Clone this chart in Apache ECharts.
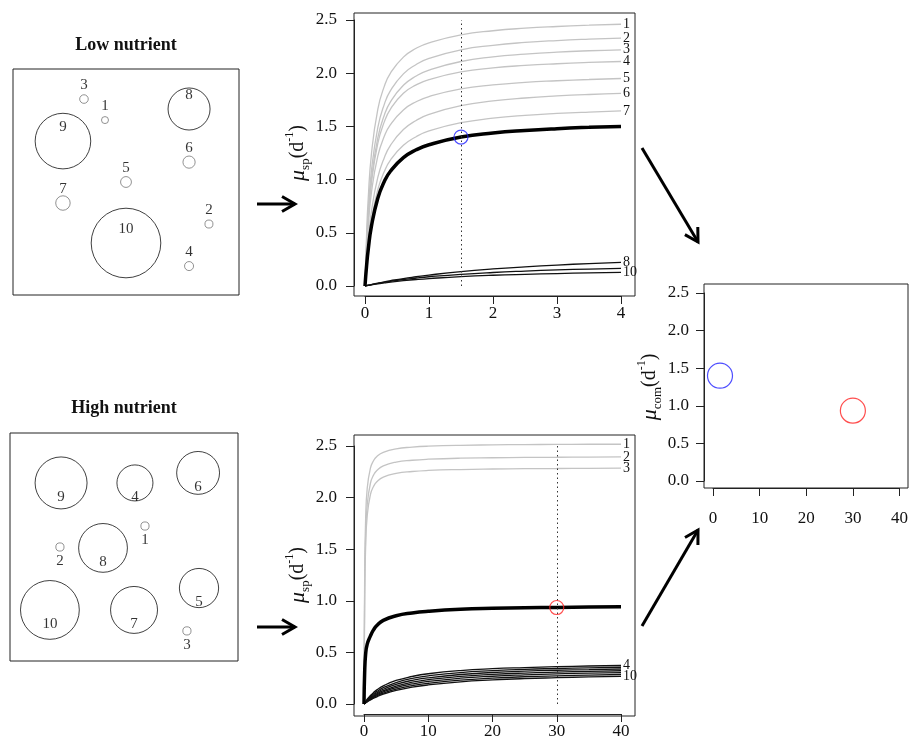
<!DOCTYPE html>
<html>
<head>
<meta charset="utf-8">
<script src="https://cdn.jsdelivr.net/npm/echarts@6/dist/echarts.min.js"></script>
<style>
  html, body { margin: 0; background: #fff; }
  #chart { width: 911px; height: 740px; }
</style>
</head>
<body>
<div id="chart"></div>
<script>
const speciesIds = ['1', '2', '3', '4', '5', '6', '7', '8', '9', '10'];
const muTicks = [0, 0.5, 1, 1.5, 2, 2.5];

// low nutrient community: cell positions (box units 0-10) and radii
const lowPosX = [4.07, 8.67, 3.14, 7.79, 5.0, 7.79, 2.21, 7.79, 2.21, 5.0];
const lowPosY = [7.74, 3.14, 8.67, 1.28, 5.0, 5.88, 4.07, 8.23, 6.81, 2.30];
const lowRadius = [0.155, 0.177, 0.19, 0.2, 0.24, 0.27, 0.32, 0.93, 1.23, 1.54];
const lowGray = ['1', '2', '3', '4', '5', '6', '7'];
const lowLabelled = ['1', '2', '3', '4', '5', '6', '7', '8', '10'];

// low nutrient growth curves
const lowS = [0, 0.025, 0.05, 0.1, 0.2, 0.3, 0.4, 0.6, 0.8, 1, 1.5, 2, 2.5, 3, 3.5, 4];
const lowMu = [
  [0, 0.489, 0.819, 1.237, 1.661, 1.874, 2.003, 2.151, 2.234, 2.286, 2.360, 2.399, 2.423, 2.439, 2.451, 2.460],
  [0, 0.407, 0.696, 1.079, 1.489, 1.705, 1.838, 1.994, 2.082, 2.139, 2.220, 2.262, 2.289, 2.307, 2.320, 2.330],
  [0, 0.372, 0.640, 1.001, 1.393, 1.603, 1.733, 1.886, 1.974, 2.030, 2.110, 2.153, 2.179, 2.198, 2.211, 2.220],
  [0, 0.355, 0.615, 0.965, 1.340, 1.540, 1.665, 1.811, 1.890, 1.940, 2.012, 2.050, 2.073, 2.089, 2.101, 2.110],
  [0, 0.325, 0.559, 0.875, 1.220, 1.404, 1.519, 1.655, 1.732, 1.781, 1.852, 1.890, 1.914, 1.929, 1.941, 1.950],
  [0, 0.242, 0.429, 0.699, 1.020, 1.204, 1.324, 1.470, 1.556, 1.613, 1.695, 1.739, 1.767, 1.786, 1.800, 1.810],
  [0, 0.210, 0.374, 0.614, 0.905, 1.074, 1.186, 1.322, 1.403, 1.457, 1.535, 1.577, 1.604, 1.622, 1.635, 1.645],
  [0, 0.004, 0.007, 0.014, 0.027, 0.039, 0.050, 0.070, 0.087, 0.103, 0.135, 0.160, 0.180, 0.197, 0.211, 0.222],
  [0, 0.003, 0.007, 0.013, 0.024, 0.035, 0.044, 0.061, 0.075, 0.087, 0.110, 0.127, 0.140, 0.151, 0.159, 0.166],
  [0, 0.003, 0.006, 0.011, 0.021, 0.029, 0.037, 0.050, 0.061, 0.070, 0.088, 0.101, 0.110, 0.117, 0.123, 0.128]
];
const lowMean = [0, 0.191, 0.341, 0.560, 0.825, 0.980, 1.081, 1.206, 1.280, 1.328, 1.400, 1.438, 1.462, 1.479, 1.491, 1.500];
const lowCut = 1.5;
const lowCom = 1.4;

// high nutrient community
const highPosX = [5.92, 2.19, 7.76, 5.48, 8.29, 8.25, 5.44, 4.08, 2.24, 1.75];
const highPosY = [5.92, 5.0, 1.32, 7.81, 3.20, 8.25, 2.24, 4.96, 7.81, 2.24];
const highRadius = [0.18, 0.18, 0.18, 0.79, 0.86, 0.94, 1.03, 1.07, 1.14, 1.29];
const highGray = ['1', '2', '3'];
const highLabelled = ['1', '2', '3', '4', '10'];

const highS = [0, 0.1, 0.25, 0.5, 1, 1.5, 2, 3, 5, 7.5, 10, 15, 20, 25, 30, 35, 40];
const highMu = [
  [0, 1.237, 1.782, 2.089, 2.286, 2.360, 2.399, 2.439, 2.473, 2.489, 2.498, 2.507, 2.511, 2.514, 2.515, 2.517, 2.517],
  [0, 1.079, 1.611, 1.929, 2.139, 2.220, 2.262, 2.307, 2.344, 2.362, 2.372, 2.382, 2.386, 2.389, 2.391, 2.393, 2.394],
  [0, 1.001, 1.512, 1.822, 2.030, 2.110, 2.153, 2.198, 2.234, 2.253, 2.263, 2.272, 2.277, 2.280, 2.282, 2.284, 2.285],
  [0, 0.010, 0.024, 0.046, 0.082, 0.112, 0.137, 0.176, 0.228, 0.267, 0.293, 0.324, 0.342, 0.353, 0.362, 0.368, 0.373],
  [0, 0.009, 0.021, 0.040, 0.072, 0.099, 0.122, 0.158, 0.208, 0.248, 0.273, 0.305, 0.323, 0.336, 0.344, 0.351, 0.356],
  [0, 0.008, 0.018, 0.035, 0.064, 0.088, 0.109, 0.143, 0.191, 0.229, 0.254, 0.286, 0.305, 0.318, 0.327, 0.333, 0.339],
  [0, 0.007, 0.016, 0.031, 0.056, 0.078, 0.098, 0.129, 0.174, 0.211, 0.236, 0.268, 0.287, 0.300, 0.309, 0.316, 0.322],
  [0, 0.006, 0.014, 0.027, 0.050, 0.070, 0.088, 0.117, 0.159, 0.194, 0.219, 0.250, 0.269, 0.282, 0.292, 0.299, 0.304],
  [0, 0.005, 0.012, 0.024, 0.044, 0.062, 0.078, 0.105, 0.144, 0.178, 0.201, 0.232, 0.251, 0.264, 0.273, 0.280, 0.286],
  [0, 0.004, 0.011, 0.021, 0.039, 0.056, 0.070, 0.095, 0.131, 0.163, 0.185, 0.215, 0.233, 0.246, 0.255, 0.263, 0.268]
];
const highMean = [0, 0.30, 0.48, 0.58, 0.66, 0.72, 0.76, 0.81, 0.855, 0.882, 0.898, 0.917, 0.927, 0.933, 0.935, 0.940, 0.943];
const highCut = 30;
const highCom = 0.935;

const serif = 'Liberation Serif';
const ink = '#111';
const grayLine = '#c4c4c4';
const grayCell = '#777';

const chart = echarts.init(document.getElementById('chart'), null, { renderer: 'canvas' });

// box grids for the cell pictures, curve panels and the community panel
const grids = [
  { left: 13, top: 69, width: 226, height: 226 },   // low cells
  { left: 10, top: 433, width: 228, height: 228 },  // high cells
  { left: 365, top: 20, width: 256, height: 266 },  // low curves
  { left: 364, top: 446, width: 257, height: 260 }, // high curves
  { left: 713, top: 293, width: 188, height: 188 }  // community
];
const frames = [
  { x: 354, y: 13, width: 281, height: 283 },
  { x: 354, y: 435, width: 281, height: 281 },
  { x: 704, y: 284, width: 204, height: 204 }
];

function cellAxis(i) {
  return { gridIndex: i, type: 'value', min: 0, max: 10, show: false };
}

const muName = (sub) => '{mu|μ}{sub|' + sub + '}{n|(d}{sup|-1}{n|)}';
const nameRich = {
  mu: { fontSize: 22, fontStyle: 'italic', fontFamily: serif, color: ink, lineHeight: 28 },
  sub: { fontSize: 13, fontFamily: serif, color: ink, verticalAlign: 'bottom', lineHeight: 28 },
  n: { fontSize: 20, fontFamily: serif, color: ink, lineHeight: 28 },
  sup: { fontSize: 12, fontFamily: serif, color: ink, verticalAlign: 'top', lineHeight: 28 }
};

function xAxisFor(i, max, step, offset, margin) {
  return {
    gridIndex: i, type: 'value', min: 0, max: max, interval: step, offset: offset,
    splitLine: { show: false },
    axisLine: { show: true, onZero: false, lineStyle: { color: '#222' } },
    axisTick: { show: true, inside: false, length: 8, lineStyle: { color: '#222' } },
    axisLabel: { margin: margin, fontFamily: serif, fontSize: 17, color: ink, showMinLabel: true, showMaxLabel: true }
  };
}
function yAxisFor(i, offset, margin, sub, gap) {
  return {
    gridIndex: i, type: 'value', min: muTicks[0], max: muTicks[muTicks.length - 1],
    interval: muTicks[1] - muTicks[0], offset: offset,
    splitLine: { show: false },
    axisLine: { show: true, onZero: false, lineStyle: { color: '#222' } },
    axisTick: { show: true, inside: false, length: 8, lineStyle: { color: '#222' } },
    axisLabel: { margin: margin, fontFamily: serif, fontSize: 17, color: ink,
      formatter: (v) => v.toFixed(1), showMinLabel: true, showMaxLabel: true },
    name: muName(sub), nameLocation: 'middle', nameRotate: 90, nameGap: gap,
    nameTextStyle: { rich: nameRich }
  };
}

function cellSeries(axis, posX, posY, radius, grayIds, pxPerUnit, labelDy) {
  return {
    type: 'scatter', xAxisIndex: axis, yAxisIndex: axis, symbol: 'circle', silent: true,
    symbolSize: (val) => val[2] * 2 * pxPerUnit,
    data: speciesIds.map((id, k) => ({
      name: id,
      value: [posX[k], posY[k], radius[k]],
      itemStyle: { color: 'rgba(0,0,0,0)', borderWidth: 1, borderColor: grayIds.includes(id) ? grayCell : '#111' }
    })),
    label: { show: true, position: 'inside', offset: [0, labelDy], formatter: (p) => p.name,
      fontFamily: serif, fontSize: 15, color: '#000', textBorderWidth: 0 }
  };
}

function curveSeries(axis, xs, curves, grayIds, labelled) {
  return curves.map((ys, k) => {
    const id = speciesIds[k];
    const gray = grayIds.includes(id);
    return {
      type: 'line', name: id, xAxisIndex: axis, yAxisIndex: axis, silent: true, clip: false,
      showSymbol: false, smooth: 0.5, z: gray ? 2 : 3,
      lineStyle: { color: gray ? grayLine : '#111', width: 1.3 },
      data: xs.map((x, j) => [x, ys[j]]),
      endLabel: { show: labelled.includes(id), formatter: '{a}', distance: 2,
        fontFamily: serif, fontSize: 14, color: ink }
    };
  });
}

function meanSeries(axis, xs, ys, cut) {
  return {
    type: 'line', xAxisIndex: axis, yAxisIndex: axis, silent: true, clip: false,
    showSymbol: false, smooth: 0.5, z: 4,
    lineStyle: { color: '#000', width: 3.5 },
    data: xs.map((x, j) => [x, ys[j]]),
    markLine: { silent: true, symbol: 'none', label: { show: false },
      lineStyle: { color: '#333', type: [1.5, 3], width: 1 }, data: [{ xAxis: cut }] }
  };
}

function pointSeries(axis, pts, size) {
  return {
    type: 'scatter', xAxisIndex: axis, yAxisIndex: axis, silent: true, z: 6, symbolSize: size,
    data: pts.map((p) => ({ value: [p[0], p[1]],
      itemStyle: { color: 'rgba(0,0,0,0)', borderColor: p[2], borderWidth: 1.2 } }))
  };
}

function arrow(x1, y1, x2, y2) {
  const a = Math.atan2(y2 - y1, x2 - x1), len = 15, spread = Math.PI / 6;
  const p1 = [x2 - len * Math.cos(a - spread), y2 - len * Math.sin(a - spread)];
  const p2 = [x2 - len * Math.cos(a + spread), y2 - len * Math.sin(a + spread)];
  return [
    { type: 'line', shape: { x1: x1, y1: y1, x2: x2, y2: y2 }, style: { stroke: '#000', lineWidth: 3 } },
    { type: 'polyline', shape: { points: [p1, [x2, y2], p2] }, style: { stroke: '#000', lineWidth: 3, fill: null } }
  ];
}

const graphics = [].concat(
  frames.map((f) => ({ type: 'rect', z: 10, shape: f, style: { fill: null, stroke: '#222', lineWidth: 1 } })),
  [
    { type: 'text', x: 126, y: 45, style: { text: 'Low nutrient', font: 'bold 18px "Liberation Serif"', fill: ink, align: 'center', verticalAlign: 'middle' } },
    { type: 'text', x: 124, y: 408, style: { text: 'High nutrient', font: 'bold 18px "Liberation Serif"', fill: ink, align: 'center', verticalAlign: 'middle' } }
  ],
  arrow(257, 204, 295, 204),
  arrow(257, 627, 295, 627),
  arrow(642, 148, 698, 242),
  arrow(642, 626, 698, 530)
);

const option = {
  animation: false,
  backgroundColor: '#fff',
  grid: [
    Object.assign({ show: true, borderColor: '#222', borderWidth: 1 }, grids[0]),
    Object.assign({ show: true, borderColor: '#222', borderWidth: 1 }, grids[1]),
    grids[2], grids[3], grids[4]
  ],
  xAxis: [
    cellAxis(0), cellAxis(1),
    xAxisFor(2, lowS[lowS.length - 1], 1, 10, 9),
    xAxisFor(3, highS[highS.length - 1], 10, 10, 9),
    xAxisFor(4, highS[highS.length - 1], 10, 7, 22)
  ],
  yAxis: [
    cellAxis(0), cellAxis(1),
    yAxisFor(2, 11, 17, 'sp', 37),
    yAxisFor(3, 10, 17, 'sp', 37),
    yAxisFor(4, 9, 15, 'com', 29)
  ],
  graphic: { elements: graphics },
  series: [].concat(
    cellSeries(0, lowPosX, lowPosY, lowRadius, lowGray, 22.6, -14),
    cellSeries(1, highPosX, highPosY, highRadius, highGray, 22.8, 14),
    curveSeries(2, lowS, lowMu, lowGray, lowLabelled),
    meanSeries(2, lowS, lowMean, lowCut),
    pointSeries(2, [[lowCut, lowCom, '#2222ff']], 14),
    curveSeries(3, highS, highMu, highGray, highLabelled),
    meanSeries(3, highS, highMean, highCut),
    pointSeries(3, [[highCut, highCom, '#ff2222']], 14),
    pointSeries(4, [[lowCut, lowCom, '#2222ff'], [highCut, highCom, '#ff2222']], 25)
  )
};

chart.setOption(option);
</script>
</body>
</html>
